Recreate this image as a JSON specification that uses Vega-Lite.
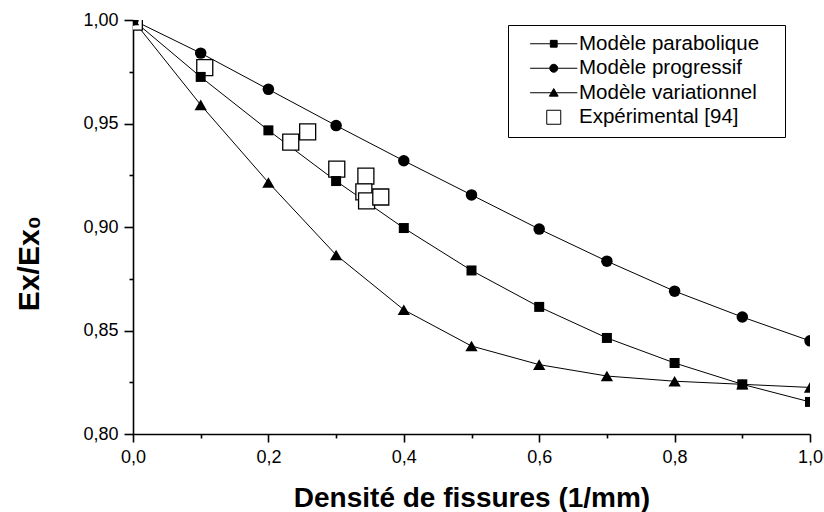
{
  "$schema": "https://vega.github.io/schema/vega-lite/v6.json",
  "width": 677,
  "height": 414,
  "autosize": "none",
  "padding": {"left": 133, "top": 20, "right": 14, "bottom": 78},
  "background": "white",
  "config": {
    "view": {"stroke": null},
    "font": "Liberation Sans",
    "axis": {
      "domainColor": "black",
      "domainWidth": 1.6,
      "tickColor": "black",
      "tickWidth": 1.6,
      "labelColor": "black",
      "labelFont": "Liberation Sans",
      "labelFontSize": 18,
      "titleColor": "black",
      "titleFont": "Liberation Sans",
      "grid": false,
      "labelFlush": false,
      "labelOverlap": false
    }
  },
  "data": {
    "values": [
      {"serie": "Modèle parabolique", "d": 0.0, "e": 1.0},
      {"serie": "Modèle parabolique", "d": 0.1, "e": 0.9725},
      {"serie": "Modèle parabolique", "d": 0.2, "e": 0.9467},
      {"serie": "Modèle parabolique", "d": 0.3, "e": 0.9222},
      {"serie": "Modèle parabolique", "d": 0.4, "e": 0.8995},
      {"serie": "Modèle parabolique", "d": 0.5, "e": 0.879},
      {"serie": "Modèle parabolique", "d": 0.6, "e": 0.8614},
      {"serie": "Modèle parabolique", "d": 0.7, "e": 0.8464},
      {"serie": "Modèle parabolique", "d": 0.8, "e": 0.8343},
      {"serie": "Modèle parabolique", "d": 0.9, "e": 0.824},
      {"serie": "Modèle parabolique", "d": 1.0, "e": 0.8155},
      {"serie": "Modèle progressif", "d": 0.0, "e": 1.0},
      {"serie": "Modèle progressif", "d": 0.1, "e": 0.984},
      {"serie": "Modèle progressif", "d": 0.2, "e": 0.9665},
      {"serie": "Modèle progressif", "d": 0.3, "e": 0.949},
      {"serie": "Modèle progressif", "d": 0.4, "e": 0.932},
      {"serie": "Modèle progressif", "d": 0.5, "e": 0.9155},
      {"serie": "Modèle progressif", "d": 0.6, "e": 0.899},
      {"serie": "Modèle progressif", "d": 0.7, "e": 0.8835},
      {"serie": "Modèle progressif", "d": 0.8, "e": 0.869},
      {"serie": "Modèle progressif", "d": 0.9, "e": 0.8565},
      {"serie": "Modèle progressif", "d": 1.0, "e": 0.845},
      {"serie": "Modèle variationnel", "d": 0.0, "e": 1.0},
      {"serie": "Modèle variationnel", "d": 0.1, "e": 0.959},
      {"serie": "Modèle variationnel", "d": 0.2, "e": 0.9215},
      {"serie": "Modèle variationnel", "d": 0.3, "e": 0.8865},
      {"serie": "Modèle variationnel", "d": 0.4, "e": 0.86},
      {"serie": "Modèle variationnel", "d": 0.5, "e": 0.8425},
      {"serie": "Modèle variationnel", "d": 0.6, "e": 0.8335},
      {"serie": "Modèle variationnel", "d": 0.7, "e": 0.828},
      {"serie": "Modèle variationnel", "d": 0.8, "e": 0.8255},
      {"serie": "Modèle variationnel", "d": 0.9, "e": 0.824},
      {"serie": "Modèle variationnel", "d": 1.0, "e": 0.8225},
      {"serie": "Expérimental [94]", "d": 0.002, "e": 0.999},
      {"serie": "Expérimental [94]", "d": 0.106, "e": 0.977},
      {"serie": "Expérimental [94]", "d": 0.233, "e": 0.941},
      {"serie": "Expérimental [94]", "d": 0.258, "e": 0.946},
      {"serie": "Expérimental [94]", "d": 0.301, "e": 0.928},
      {"serie": "Expérimental [94]", "d": 0.344, "e": 0.9246},
      {"serie": "Expérimental [94]", "d": 0.341, "e": 0.917},
      {"serie": "Expérimental [94]", "d": 0.345, "e": 0.9126},
      {"serie": "Expérimental [94]", "d": 0.366, "e": 0.9145}
    ]
  },
  "resolve": {"axis": {"x": "independent", "y": "independent"}},
  "layer": [
    {
      "transform": [{"filter": "datum.serie != 'Expérimental [94]'"}],
      "mark": {"type": "line", "color": "black", "strokeWidth": 1, "clip": true},
      "encoding": {
        "x": {
          "field": "d", "type": "quantitative",
          "scale": {"domain": [0, 1], "nice": false, "zero": false},
          "axis": {"orient": "bottom", "values": [0.1, 0.3, 0.5, 0.7, 0.9], "tickSize": 4, "labels": false, "domain": false, "title": null}
        },
        "y": {
          "field": "e", "type": "quantitative",
          "scale": {"domain": [0.8, 1.0], "nice": false, "zero": false},
          "axis": {"orient": "left", "values": [0.825, 0.875, 0.925, 0.975], "tickSize": 4, "labels": false, "domain": false, "title": null}
        },
        "detail": {"field": "serie"}
      }
    },
    {
      "transform": [{"filter": "datum.serie == 'Expérimental [94]'"}],
      "mark": {"type": "point", "shape": "square", "filled": true, "fill": "white", "stroke": "black", "strokeWidth": 1.3, "size": 256, "opacity": 1, "clip": true},
      "encoding": {
        "x": {"field": "d", "type": "quantitative", "axis": null},
        "y": {"field": "e", "type": "quantitative", "axis": null}
      }
    },
    {
      "transform": [{"filter": "datum.serie == 'Modèle parabolique'"}],
      "mark": {"type": "point", "shape": "square", "filled": true, "color": "black", "size": 100, "opacity": 1, "clip": true},
      "encoding": {
        "x": {
          "field": "d", "type": "quantitative",
          "axis": {
            "orient": "bottom",
            "values": [0, 0.2, 0.4, 0.6, 0.8, 1.0],
            "labelExpr": "replace(format(datum.value, '.1f'), '.', ',')",
            "tickSize": 8,
            "labelPadding": 6,
            "title": "Densité de fissures (1/mm)",
            "titleFontSize": 28,
            "titleFontWeight": "bold",
            "titleBaseline": "alphabetic",
            "titleY": 72
          }
        },
        "y": {
          "field": "e", "type": "quantitative",
          "axis": {
            "orient": "left",
            "values": [0.8, 0.85, 0.9, 0.95, 1.0],
            "labelExpr": "replace(format(datum.value, '.2f'), '.', ',')",
            "tickSize": 9,
            "labelPadding": 6,
            "title": "Ex/Ex₀",
            "titleFontSize": 30,
            "titleFontWeight": "bold",
            "titleAngle": -90,
            "titleAlign": "center",
            "titleBaseline": "alphabetic",
            "titleX": -95,
            "titleY": 243
          }
        }
      }
    },
    {
      "transform": [{"filter": "datum.serie == 'Modèle progressif'"}],
      "mark": {"type": "point", "shape": "circle", "filled": true, "color": "black", "size": 132, "opacity": 1, "clip": true},
      "encoding": {
        "x": {"field": "d", "type": "quantitative", "axis": null},
        "y": {"field": "e", "type": "quantitative", "axis": null}
      }
    },
    {
      "transform": [{"filter": "datum.serie == 'Modèle variationnel'"}],
      "mark": {"type": "point", "shape": "triangle-up", "filled": true, "color": "black", "size": 150, "opacity": 1, "clip": true},
      "encoding": {
        "x": {"field": "d", "type": "quantitative", "axis": null},
        "y": {"field": "e", "type": "quantitative", "axis": null}
      }
    },
    {
      "mark": {"type": "point", "filled": true, "color": "black", "opacity": 0, "clip": true},
      "encoding": {
        "x": {"field": "d", "type": "quantitative", "axis": null},
        "y": {"field": "e", "type": "quantitative", "axis": null},
        "shape": {
          "field": "serie", "type": "nominal",
          "scale": {
            "domain": ["Modèle parabolique", "Modèle progressif", "Modèle variationnel", "Expérimental [94]"],
            "range": [
              "M-5.9,0H-0.85M-0.85,-0.85H0.85V0.85H-0.85ZM0.85,0H5.9",
              "M-5.9,0H-1M1,0H5.9M-1,0A1,1,0,1,0,1,0A1,1,0,1,0,-1,0Z",
              "M-5.9,0H-0.6M0.6,0H5.9M0,-1.05L1.1,0.85H-1.1Z",
              "M-1.75,-1.75H1.75V1.75H-1.75Z"
            ]
          },
          "legend": {
            "title": null,
            "orient": "none",
            "legendX": 375,
            "legendY": 5,
            "direction": "vertical",
            "strokeColor": "black",
            "fillColor": "white",
            "padding": 8.5,
            "labelFont": "Liberation Sans",
            "labelFontSize": 20.5,
            "labelColor": "black",
            "labelLimit": 400,
            "labelExpr": "datum.label + '\u00a0\u00a0\u00a0\u200b'",
            "symbolSize": 64,
            "rowPadding": 3.5,
            "symbolOffset": 27,
            "labelOffset": 15,
            "encoding": {
              "symbols": {
                "fill": {"value": {"expr": "datum.value == 'Expérimental [94]' ? 'white' : 'black'"}},
                "stroke": {"value": "black"},
                "strokeWidth": {"value": 1},
                "opacity": {"value": 1}
              }
            }
          }
        }
      }
    }
  ]
}
